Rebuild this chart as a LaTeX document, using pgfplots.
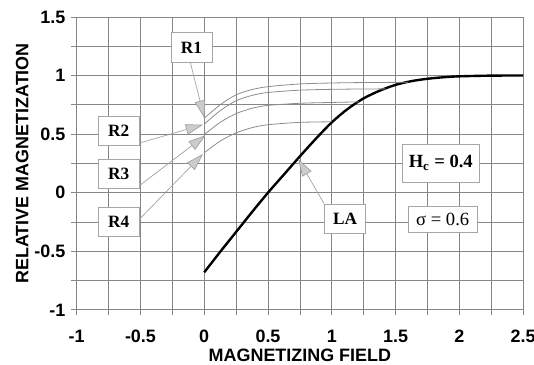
\documentclass[border=0pt]{standalone}
\usepackage{fontspec}
\setmainfont{Liberation Serif}
\setsansfont{Liberation Sans}
\usepackage{pgfplots}
\pgfplotsset{compat=1.18}
\usetikzlibrary{arrows.meta}
\definecolor{gridc}{RGB}{135,135,135}
\definecolor{rc}{RGB}{140,140,140}
\tikzset{
  box/.style={draw=gray!70, fill=white, line width=0.5pt, font=\bfseries\fontsize{13}{15}\selectfont, minimum width=31pt, minimum height=22pt, inner sep=1pt},
  arr/.style={draw=gray!75, line width=0.5pt, -{Triangle[length=13pt,width=8pt,fill=gray!40]}}
}
\begin{document}
\begin{tikzpicture}
\useasboundingbox (0,0) rectangle (402pt,274.5pt);
\begin{axis}[
  at={(57.75pt,41.25pt)}, anchor=south west,
  width=336pt, height=220.5pt, scale only axis,
  xmin=-1, xmax=2.5, ymin=-1, ymax=1.5,
  xtick={-1,-0.5,0,0.5,1,1.5,2,2.5},
  ytick={-1,-0.5,0,0.5,1,1.5},
  minor xtick={-0.75,-0.25,0.25,0.75,1.25,1.75,2.25},
  minor ytick={-0.75,-0.25,0.25,0.75,1.25},
  grid=both,
  major grid style={gridc, line width=0.55pt},
  minor grid style={gridc, line width=0.55pt},
  axis line style={gridc, line width=0.55pt},
  tick style={gridc, line width=0.55pt},
  tick align=outside, tick pos=left,
  major tick length=4pt, minor tick length=4pt,
  xlabel={MAGNETIZING FIELD}, ylabel={RELATIVE MAGNETIZATION},
  label style={font=\sffamily\bfseries\fontsize{13.5}{16}\selectfont},
  xlabel style={at={(axis description cs:0.5,-0.155)}, anchor=center},
  ylabel style={at={(axis description cs:-0.122,0.5)}, anchor=center},
  ticklabel style={font=\sffamily\bfseries\fontsize{13.5}{15}\selectfont},
  /pgf/number format/assume math mode=true,
  xticklabel style={yshift=-8pt},
  yticklabel style={xshift=-1pt},
]
% LA curve
\addplot[black, line width=1.8pt, smooth] coordinates {
 (0,-0.68) (0.125,-0.505) (0.25,-0.335) (0.375,-0.165) (0.5,0.0) (0.625,0.155)
 (0.75,0.31) (0.875,0.46) (1.0,0.6) (1.125,0.715) (1.25,0.805) (1.375,0.87)
 (1.5,0.92) (1.625,0.952) (1.75,0.972) (1.875,0.985) (2.0,0.993) (2.25,0.999) (2.5,1.0)};
% R curves
\addplot[rc, line width=0.6pt, smooth] coordinates {
 (0,0.635) (0.125,0.75) (0.25,0.835) (0.375,0.88) (0.5,0.905) (0.75,0.928) (1.0,0.936) (1.25,0.94) (1.6,0.942)};
\addplot[rc, line width=0.6pt, smooth] coordinates {
 (0,0.585) (0.125,0.70) (0.25,0.785) (0.375,0.83) (0.5,0.855) (0.75,0.875) (1.0,0.882) (1.25,0.885) (1.42,0.886)};
\addplot[rc, line width=0.6pt, smooth] coordinates {
 (0,0.495) (0.125,0.60) (0.25,0.675) (0.375,0.72) (0.5,0.745) (0.75,0.763) (1.0,0.77) (1.21,0.775)};
\addplot[rc, line width=0.6pt, smooth] coordinates {
 (0,0.34) (0.125,0.44) (0.25,0.51) (0.375,0.555) (0.5,0.58) (0.75,0.60) (1.0,0.605)};
% arrows
\draw[arr] (-0.11,1.117) -- (0.0,0.64);
\draw[arr] (-0.52,0.42) -- (-0.01,0.58);
\draw[arr] (-0.52,0.05) -- (0.01,0.49);
\draw[arr] (-0.52,-0.24) -- (-0.01,0.33);
\draw[arr] (0.94,-0.094) -- (0.737,0.287);
% boxes
\node[box] at (-0.10,1.24) {R1};
\node[box] at (-0.67,0.53) {R2};
\node[box] at (-0.67,0.163) {R3};
\node[box] at (-0.67,-0.247) {R4};
\node[box] at (1.105,-0.226) {LA};
\node[box, minimum width=57.5pt, minimum height=28.5pt, font=\bfseries\fontsize{14}{16}\selectfont] at (1.855,0.253) {H\textsubscript{c} = 0.4};
\node[box, minimum width=52pt, minimum height=19.5pt, font=\fontsize{14}{16}\selectfont] at (1.87,-0.23) {σ = 0.6};
\end{axis}
\end{tikzpicture}
\end{document}
